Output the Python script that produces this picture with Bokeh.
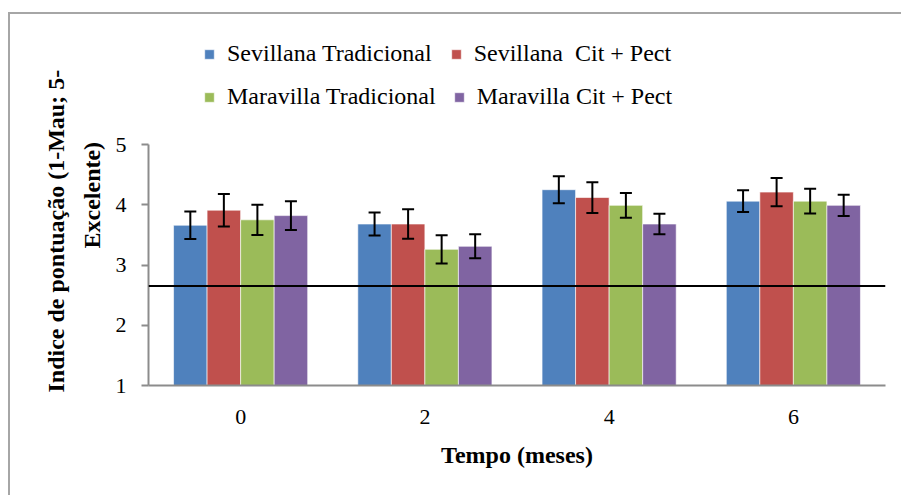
from bokeh.plotting import figure
from bokeh.models import (ColumnDataSource, FactorRange, Whisker, TeeHead, Span, Title,
                          Legend, LegendItem, FixedTicker, InlineStyleSheet)
from bokeh.transform import dodge
from bokeh.embed import file_html
from bokeh.resources import INLINE

# ---- data ----
tempo = ["0", "2", "4", "6"]
series_names = ["Sevillana Tradicional", "Sevillana  Cit + Pect",
                "Maravilla Tradicional", "Maravilla Cit + Pect"]
sev_trad = [3.66, 3.68, 4.25, 4.06]
sev_trad_err = [0.23, 0.19, 0.225, 0.18]
sev_cit = [3.91, 3.68, 4.12, 4.21]
sev_cit_err = [0.27, 0.245, 0.255, 0.235]
mar_trad = [3.75, 3.26, 3.99, 4.06]
mar_trad_err = [0.25, 0.235, 0.205, 0.205]
mar_cit = [3.82, 3.31, 3.68, 3.99]
mar_cit_err = [0.24, 0.20, 0.17, 0.175]
limit_value = 2.65
y_ticks = [1, 2, 3, 4, 5]

values = [sev_trad, sev_cit, mar_trad, mar_cit]
errors = [sev_trad_err, sev_cit_err, mar_trad_err, mar_cit_err]
colors = ["#4F81BD", "#C0504D", "#9BBB59", "#8064A2"]
offsets = [-0.273, -0.091, 0.091, 0.273]

FONT = "Liberation Serif"

# layout geometry: axis 1..5 spans 241 px, its top 144 px below the canvas top;
# the frame is extended upward (axis bounded to 1..5) so the legend can sit inside it.
PX_PER_UNIT = 241 / 4
y_top = 5 + 144 / PX_PER_UNIT

border_css = InlineStyleSheet(css="""
:host::after {
  content: ''; position: absolute; left: 8px; top: 12px; width: 2000px; height: 2000px;
  border-left: 2px solid #a6a6a6; border-top: 2px solid #a6a6a6; pointer-events: none;
}
:host { overflow: hidden; }
""")

p = figure(x_range=FactorRange(factors=tempo, range_padding=0), y_range=(1, y_top),
           width=901, height=495, output_backend="svg", toolbar_location=None,
           min_border_left=148, min_border_right=16, min_border_top=0, min_border_bottom=110,
           stylesheets=[border_css])
p.outline_line_color = None
p.xgrid.grid_line_color = None
p.ygrid.grid_line_color = None
p.background_fill_color = "white"
p.border_fill_color = "white"

renderers = []
for i, (vals, errs) in enumerate(zip(values, errors)):
    src = ColumnDataSource(dict(
        tempo=tempo, top=vals,
        upper=[v + e for v, e in zip(vals, errs)],
        lower=[v - e for v, e in zip(vals, errs)]))
    r = p.vbar(x=dodge("tempo", offsets[i], range=p.x_range), top="top", bottom=1,
               width=0.182, source=src, fill_color=colors[i],
               line_color="white", line_alpha=0.6, line_width=1)
    renderers.append(r)
    w = Whisker(base=dodge("tempo", offsets[i], range=p.x_range), upper="upper", lower="lower",
                source=src, line_color="black", line_width=2, level="overlay",
                upper_head=TeeHead(size=12, line_color="black", line_width=2),
                lower_head=TeeHead(size=12, line_color="black", line_width=2))
    p.add_layout(w)

p.add_layout(Span(location=limit_value, dimension="width", line_color="black", line_width=2))

# axes
AX = "#8c8c8c"
p.yaxis.bounds = (1, 5)
p.yaxis.ticker = FixedTicker(ticks=y_ticks)
p.yaxis.axis_line_color = AX
p.yaxis.axis_line_width = 2
p.yaxis.major_tick_line_color = AX
p.yaxis.major_tick_line_width = 2
p.yaxis.major_tick_out = 7
p.yaxis.major_tick_in = 0
p.yaxis.minor_tick_line_color = None
p.yaxis.major_label_standoff = 15
p.yaxis.major_label_text_font = FONT
p.yaxis.major_label_text_font_size = "22px"
p.yaxis.major_label_text_color = "black"

p.xaxis.axis_line_color = AX
p.xaxis.axis_line_width = 2
p.xaxis.major_tick_line_color = None
p.xaxis.major_tick_out = 0
p.xaxis.major_tick_in = 0
p.xaxis.minor_tick_line_color = None
p.xaxis.major_label_standoff = 24
p.xaxis.major_label_text_font = FONT
p.xaxis.major_label_text_font_size = "22px"
p.xaxis.major_label_text_color = "black"
p.xaxis.axis_label = "Tempo (meses)"
p.xaxis.axis_label_text_font = FONT
p.xaxis.axis_label_text_font_size = "24px"
p.xaxis.axis_label_text_font_style = "bold"
p.xaxis.axis_label_text_color = "black"
p.xaxis.axis_label_standoff = 15

# y title as two rotated lines (closest to axis first)
p.add_layout(Title(text="Excelente)", align="left", offset=137, standoff=16,
                   text_font=FONT, text_font_size="24px", text_font_style="bold",
                   text_color="black"), "left")
p.add_layout(Title(text="Indice de pontuação (1-Mau; 5-", align="left", offset=-7, standoff=0,
                   text_font=FONT, text_font_size="24px", text_font_style="bold",
                   text_color="black"), "left")

# legends: two rows inside the (extended) frame
def make_legend(idx, loc, spacing):
    lg = Legend(items=[LegendItem(label=series_names[i], renderers=[renderers[i]]) for i in idx],
                orientation="horizontal", location=loc, spacing=spacing,
                padding=0, margin=0, border_line_alpha=0, background_fill_alpha=0,
                glyph_width=12, glyph_height=12, label_standoff=12,
                label_text_font=FONT, label_text_font_size="24px", label_text_color="black")
    p.add_layout(lg)

make_legend([0, 1], (55, 318), 18)
make_legend([2, 3], (55, 275), 17)

open("out.html", "w").write(file_html(p, INLINE))
